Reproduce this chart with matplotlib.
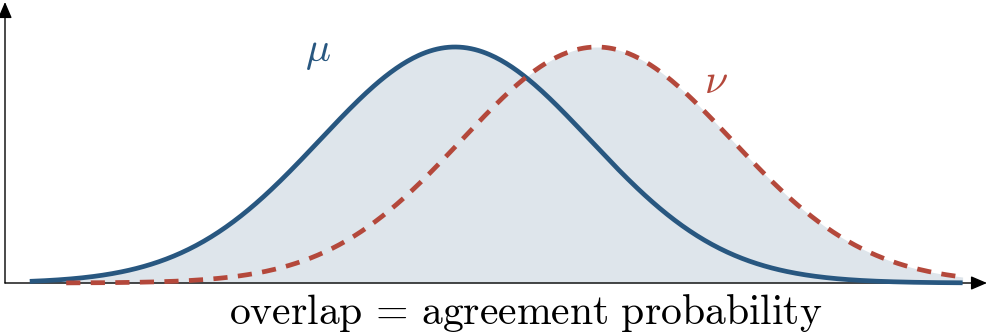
import matplotlib
matplotlib.use("Agg")
import matplotlib.pyplot as plt
import numpy as np

plt.rcParams["mathtext.fontset"] = "cm"
plt.rcParams["font.family"] = "serif"
plt.rcParams["font.serif"] = ["cmr10", "DejaVu Serif"]

# two unit-variance bells, means in sigma units
names = ["mu", "nu"]
means = [0.0, 1.05]
sigmas = [1.0, 1.0]
x_from = [-3.15, -2.88]
x_to = [3.76, 3.76]
labels = [r"$\mu$", r"$\nu$"]
label_pos = [(-1.015, 0.975), (1.933, 0.85)]
caption = r"$\mathrm{overlap}\,=\,\mathrm{agreement\ probability}$"

BLUE = "#285780"
RED = "#b4483b"
FILL = "#dee5eb"

fig = plt.figure(figsize=(9.89, 3.35), dpi=100)
ax = fig.add_axes([0, 0, 1, 1])
ax.set_xlim(-455 / 135, (989 - 455) / 135)
ax.set_ylim(-52 / 236, 283 / 236)
ax.axis("off")


def bell(x, m, s):
    return np.exp(-0.5 * ((x - m) / s) ** 2)


xs = np.linspace(min(x_from), max(x_to), 600)
ys = [np.where((xs >= a) & (xs <= b), bell(xs, m, s), 0)
      for m, s, a, b in zip(means, sigmas, x_from, x_to)]
ax.fill_between(xs, 0, np.maximum(ys[0], ys[1]), color=FILL, lw=0, zorder=1)

for i, (m, s, a, b) in enumerate(zip(means, sigmas, x_from, x_to)):
    x = np.linspace(a, b, 500)
    if i == 0:
        ax.plot(x, bell(x, m, s), color=BLUE, lw=3.4, zorder=3, solid_capstyle="butt")
    else:
        ax.plot(x, bell(x, m, s), color=RED, lw=3.4, zorder=4,
                dashes=(3.0, 2.2), dash_capstyle="butt")

for lab, (lx, ly), c in zip(labels, label_pos, [BLUE, RED]):
    ax.text(lx, ly, lab, color=c, fontsize=30, ha="center", va="center")

# axes with arrows
x0 = (5 - 455) / 135
arrow = dict(arrowstyle="-|>,head_length=0.7,head_width=0.3", color="black", lw=1.0,
             mutation_scale=14, shrinkA=0, shrinkB=0)
ax.annotate("", xy=((987 - 455) / 135, 0), xytext=(x0, 0), arrowprops=arrow, zorder=2)
ax.annotate("", xy=(x0, 281 / 236), xytext=(x0, 0), arrowprops=arrow, zorder=2)

ax.text(0.526, -0.128, caption, fontsize=30, ha="center", va="center")

fig.savefig("out.png", dpi=100)
